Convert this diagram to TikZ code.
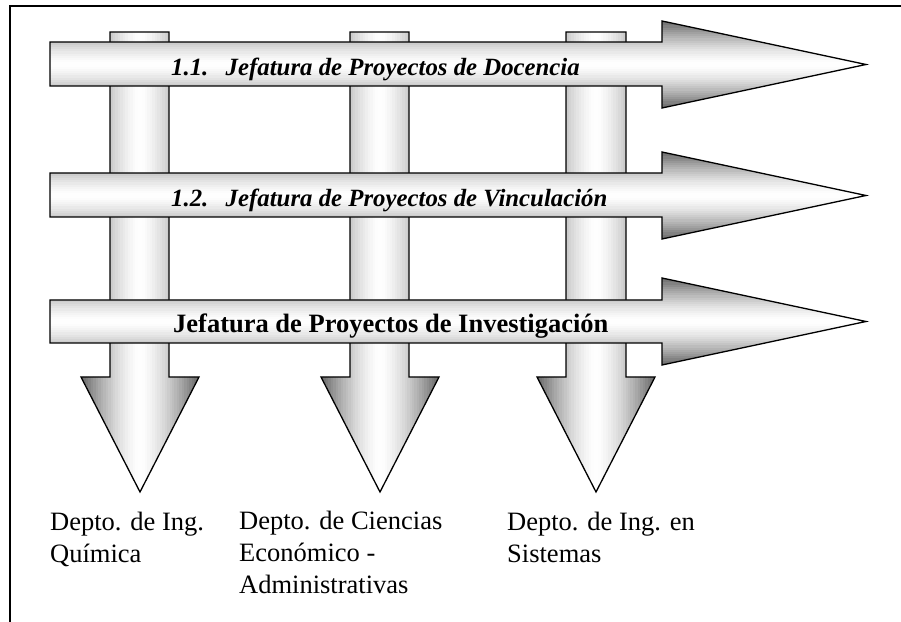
\documentclass[tikz,border=0pt]{standalone}
\usepackage{fontspec}
\setmainfont{Liberation Serif}
\begin{document}
\begin{tikzpicture}[x=1pt,y=1pt,
  edge/.style={draw=black,line width=1.3pt,line join=miter},
  head/.style={font=\fontsize{24.8}{30}\selectfont\bfseries\itshape,anchor=base west,inner sep=0pt},
  headb/.style={font=\fontsize{26.5}{32}\selectfont\bfseries,anchor=base west,inner sep=0pt},
  dept/.style={font=\fontsize{26.5}{32}\selectfont,anchor=base west,align=left,inner sep=0pt}]
\useasboundingbox (0,0) rectangle (901,621);
% frame
\draw[line width=1.3pt] (10,-9) -- (10,615) -- (910,615);
% vertical arrows
\foreach \l/\r/\hl/\hr/\t in {110/169/81/199/140, 350/409/321/439/380, 566/626/537/655/596}{
  \begin{scope}
    \clip (\l,589) -- (\r,589) -- (\r,244) -- (\hr,244) -- (\t,129) -- (\hl,244) -- (\l,244) -- cycle;
    \foreach \k in {0,...,47}{
      \pgfmathsetmacro\xa{\hl+\k*(\hr-\hl)/48}
      \pgfmathsetmacro\xb{\xa+(\hr-\hl)/48+0.6}
      \pgfmathsetmacro\lv{60*(abs(\xa+(\hr-\hl)/96-(\hl+\hr)/2)/((\hr-\hl)/2))^1.5}
      \fill[black!\lv] (\xa,120) rectangle (\xb,600);
    }
  \end{scope}
  \path[edge] (\l,589) -- (\r,589) -- (\r,244) -- (\hr,244) -- (\t,129) -- (\hl,244) -- (\l,244) -- cycle;
}
% horizontal arrows
\foreach \st/\sb/\ht/\hb in {579/535/600/513, 448/404/469/382, 321/278/343/256}{
  \pgfmathsetmacro\ty{(\ht+\hb)/2}
  \begin{scope}
    \clip (50,\st) -- (662,\st) -- (662,\ht) -- (866,\ty) -- (662,\hb) -- (662,\sb) -- (50,\sb) -- cycle;
    \foreach \k in {0,...,39}{
      \pgfmathsetmacro\ya{\hb+\k*(\ht-\hb)/40}
      \pgfmathsetmacro\yb{\ya+(\ht-\hb)/40+0.6}
      \pgfmathsetmacro\lv{60*(abs(\ya+(\ht-\hb)/80-\ty)/((\ht-\hb)/2))^1.5}
      \fill[black!\lv] (45,\ya) rectangle (870,\yb);
    }
  \end{scope}
  \path[edge] (50,\st) -- (662,\st) -- (662,\ht) -- (866,\ty) -- (662,\hb) -- (662,\sb) -- (50,\sb) -- cycle;
}
\node[head] (h1) at (171,545) {1.1.\hspace{0.7em}Jefatura de Proyectos de Docencia};
\node[head] (h2) at (171,414) {1.2.\hspace{0.7em}Jefatura de Proyectos de Vinculación};
\node[headb] (h3) at (173,288) {Jefatura de Proyectos de Investigación};
\node[dept] (d1) at (50,59) {Depto. de Ing.\\Química};
\node[dept] (d2) at (239,28) {Depto. de Ciencias\\Económico -\\Administrativas};
\node[dept] (d3) at (507,59) {Depto. de Ing. en\\Sistemas};
\end{tikzpicture}
\end{document}
